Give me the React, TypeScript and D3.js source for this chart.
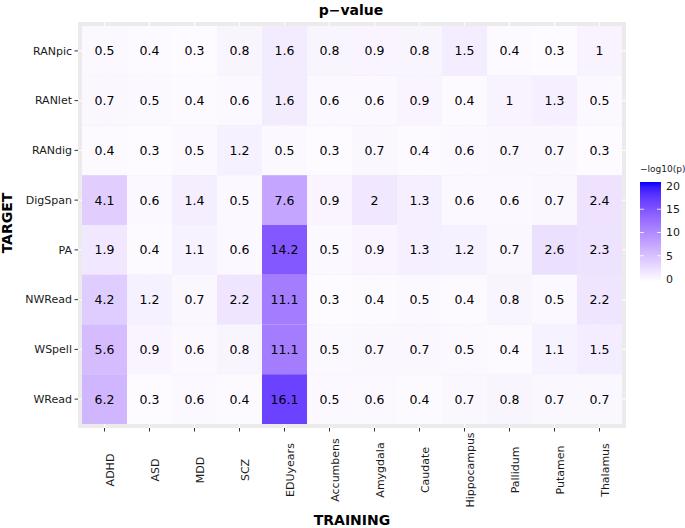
import React, { useEffect, useRef } from 'react';
import * as d3 from 'd3';

// Data
const training = ['ADHD', 'ASD', 'MDD', 'SCZ', 'EDUyears', 'Accumbens', 'Amygdala', 'Caudate', 'Hippocampus', 'Pallidum', 'Putamen', 'Thalamus'];
const target = ['RANpic', 'RANlet', 'RANdig', 'DigSpan', 'PA', 'NWRead', 'WSpell', 'WRead'];

const RANpic = [0.5, 0.4, 0.3, 0.8, 1.6, 0.8, 0.9, 0.8, 1.5, 0.4, 0.3, 1];
const RANlet = [0.7, 0.5, 0.4, 0.6, 1.6, 0.6, 0.6, 0.9, 0.4, 1, 1.3, 0.5];
const RANdig = [0.4, 0.3, 0.5, 1.2, 0.5, 0.3, 0.7, 0.4, 0.6, 0.7, 0.7, 0.3];
const DigSpan = [4.1, 0.6, 1.4, 0.5, 7.6, 0.9, 2, 1.3, 0.6, 0.6, 0.7, 2.4];
const PA = [1.9, 0.4, 1.1, 0.6, 14.2, 0.5, 0.9, 1.3, 1.2, 0.7, 2.6, 2.3];
const NWRead = [4.2, 1.2, 0.7, 2.2, 11.1, 0.3, 0.4, 0.5, 0.4, 0.8, 0.5, 2.2];
const WSpell = [5.6, 0.9, 0.6, 0.8, 11.1, 0.5, 0.7, 0.7, 0.5, 0.4, 1.1, 1.5];
const WRead = [6.2, 0.3, 0.6, 0.4, 16.1, 0.5, 0.6, 0.4, 0.7, 0.8, 0.7, 0.7];
const rowValues = [RANpic, RANlet, RANdig, DigSpan, PA, NWRead, WSpell, WRead];

const legendTicks = [0, 5, 10, 15, 20];

const W = 685;
const H = 528;
const FONT = '"DejaVu Sans", sans-serif';

const App = () => {
  const svgRef = useRef<SVGSVGElement>(null);

  useEffect(() => {
    const svg = d3.select(svgRef.current);
    svg.selectAll('*').remove();

    // panel box
    const panel = { x0: 78, x1: 626, y0: 22, y1: 428 };
    const pad = 4;

    const x = d3.scaleBand().domain(training).range([panel.x0 + pad, panel.x1 - pad]);
    const y = d3.scaleBand().domain(target).range([panel.y0 + pad, panel.y1 - pad]);
    const color = d3.scaleLinear<string>().domain([0, 20]).range(['white', 'blue']).interpolate(d3.interpolateLab);

    const cells = rowValues.flatMap((vals, r) =>
      vals.map((v, c) => ({ row: target[r], col: training[c], value: v }))
    );

    // panel background + grid
    svg.append('rect')
      .attr('x', panel.x0).attr('y', panel.y0)
      .attr('width', panel.x1 - panel.x0).attr('height', panel.y1 - panel.y0)
      .attr('fill', '#ebebeb');

    training.forEach((t) => {
      const cx = x(t)! + x.bandwidth() / 2;
      svg.append('line').attr('x1', cx).attr('x2', cx).attr('y1', panel.y0).attr('y2', panel.y1)
        .attr('stroke', 'white').attr('stroke-width', 1);
    });
    target.forEach((t) => {
      const cy = y(t)! + y.bandwidth() / 2;
      svg.append('line').attr('x1', panel.x0).attr('x2', panel.x1).attr('y1', cy).attr('y2', cy)
        .attr('stroke', 'white').attr('stroke-width', 1);
    });

    // tiles
    svg.append('g').selectAll('rect').data(cells).enter()
      .append('rect')
      .attr('x', (d) => x(d.col)!)
      .attr('y', (d) => y(d.row)!)
      .attr('width', x.bandwidth())
      .attr('height', y.bandwidth())
      .attr('fill', (d) => color(d.value));

    svg.append('g').selectAll('text').data(cells).enter()
      .append('text')
      .attr('x', (d) => x(d.col)! + x.bandwidth() / 2)
      .attr('y', (d) => y(d.row)! + y.bandwidth() / 2)
      .attr('dy', '0.36em')
      .attr('text-anchor', 'middle')
      .style('font-family', FONT)
      .style('font-size', '12.5px')
      .style('fill', 'black')
      .text((d) => String(d.value));

    // y axis
    target.forEach((t) => {
      const cy = y(t)! + y.bandwidth() / 2;
      svg.append('line').attr('x1', panel.x0 - 3.5).attr('x2', panel.x0).attr('y1', cy).attr('y2', cy)
        .attr('stroke', '#333').attr('stroke-width', 1);
      svg.append('text')
        .attr('x', panel.x0 - 6).attr('y', cy).attr('dy', '0.35em')
        .attr('text-anchor', 'end')
        .style('font-family', FONT).style('font-size', '11px').style('fill', '#1a1a1a')
        .text(t);
    });

    // x axis
    training.forEach((t) => {
      const cx = x(t)! + x.bandwidth() / 2;
      svg.append('line').attr('x1', cx).attr('x2', cx).attr('y1', panel.y1).attr('y2', panel.y1 + 3.5)
        .attr('stroke', '#333').attr('stroke-width', 1);
      svg.append('text')
        .attr('transform', `translate(${cx + 9},470) rotate(-90)`)
        .attr('text-anchor', 'middle')
        .style('font-family', FONT).style('font-size', '11px').style('fill', '#1a1a1a')
        .text(t);
    });

    // titles
    svg.append('text').attr('x', 351).attr('y', 15).attr('text-anchor', 'middle')
      .style('font-family', FONT).style('font-size', '14px').style('font-weight', 'bold')
      .text('p\u2212value');
    svg.append('text').attr('x', 352).attr('y', 525).attr('text-anchor', 'middle')
      .style('font-family', FONT).style('font-size', '14px').style('font-weight', 'bold')
      .text('TRAINING');
    svg.append('text').attr('transform', 'translate(12,223) rotate(-90)').attr('text-anchor', 'middle')
      .style('font-family', FONT).style('font-size', '14px').style('font-weight', 'bold')
      .text('TARGET');

    // legend
    const ly = d3.scaleLinear().domain([0, 20]).range([279, 186]);
    const barX = 640;
    const barW = 21;
    const grad = svg.append('defs').append('linearGradient')
      .attr('id', 'lg').attr('x1', 0).attr('x2', 0).attr('y1', 1).attr('y2', 0);
    d3.range(0, 1.0001, 0.05).forEach((t) => {
      grad.append('stop').attr('offset', t).attr('stop-color', color(t * 20));
    });
    svg.append('rect').attr('x', barX).attr('y', 182).attr('width', barW).attr('height', 100)
      .attr('fill', 'url(#lg)');
    legendTicks.forEach((v) => {
      if (v > 0 && v < 20) {
        svg.append('line').attr('x1', barX).attr('x2', barX + 4).attr('y1', ly(v)).attr('y2', ly(v))
          .attr('stroke', 'white').attr('stroke-width', 0.8);
        svg.append('line').attr('x1', barX + barW - 4).attr('x2', barX + barW).attr('y1', ly(v)).attr('y2', ly(v))
          .attr('stroke', 'white').attr('stroke-width', 0.8);
      }
      svg.append('text').attr('x', barX + barW + 5).attr('y', ly(v)).attr('dy', '0.36em')
        .style('font-family', FONT).style('font-size', '11px').style('fill', '#1a1a1a')
        .text(String(v));
    });
    svg.append('text').attr('x', barX).attr('y', 172)
      .style('font-family', FONT).style('font-size', '9px').style('fill', '#1a1a1a')
      .text('\u2212log10(p)');
  }, []);

  return (
    <svg ref={svgRef} width={W} height={H}
      style={{ position: 'absolute', left: 0, top: 0, background: 'white' }} />
  );
};

export default App;
